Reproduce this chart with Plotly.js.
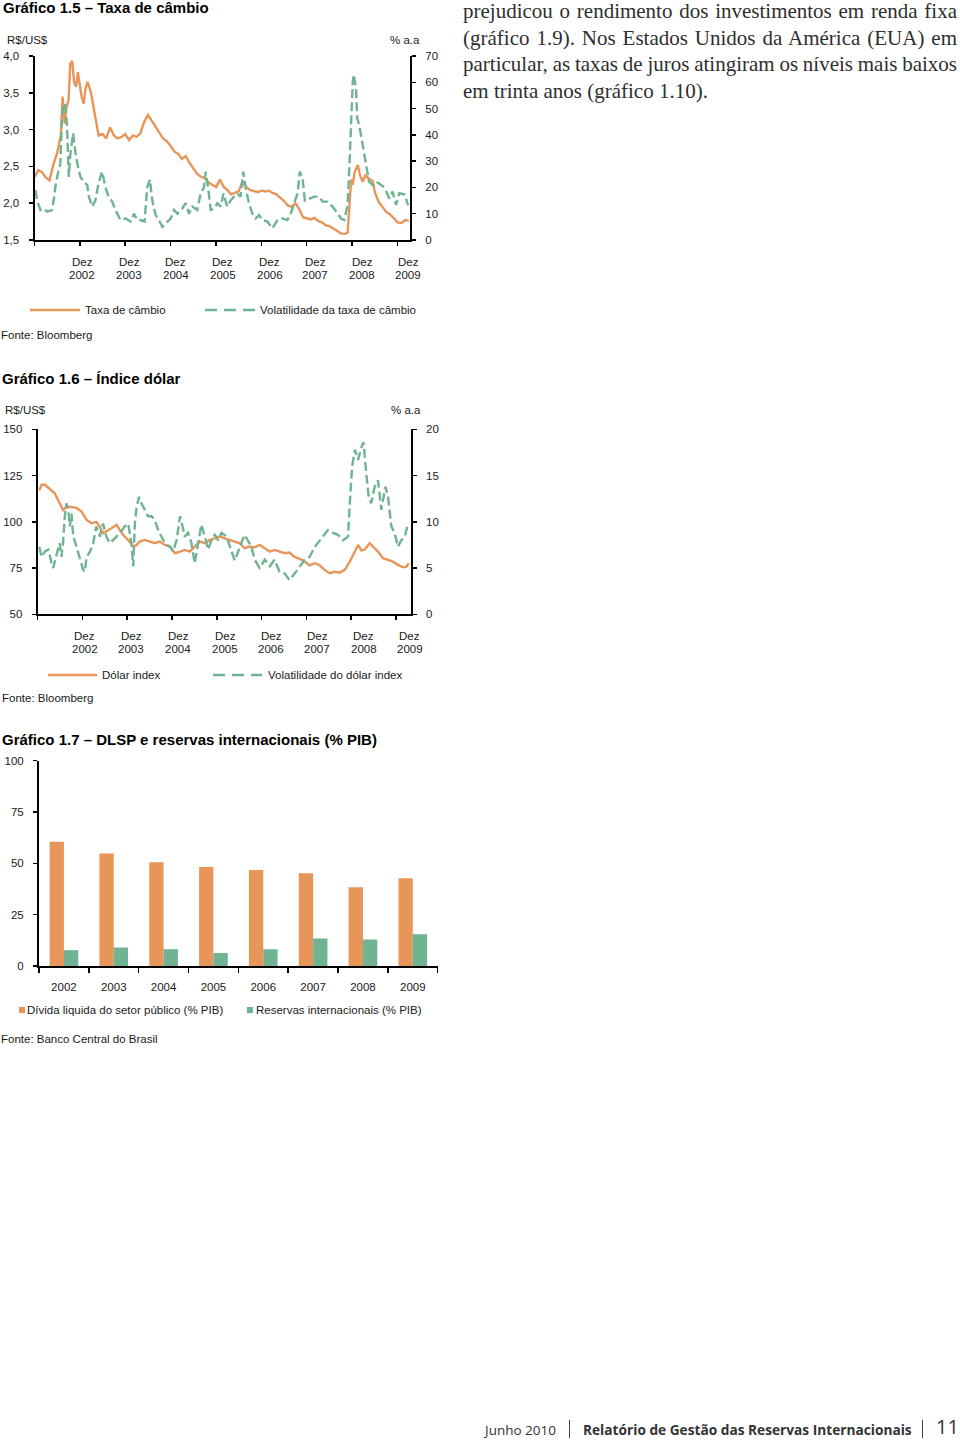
<!DOCTYPE html>
<html><head><meta charset="utf-8">
<script src="https://cdn.plot.ly/plotly-3.0.1.min.js"></script>
<style>
html,body{margin:0;padding:0;background:#fff;}
#page{position:relative;width:960px;height:1442px;overflow:hidden;background:#fff;}
#chart{position:absolute;left:0;top:0;width:960px;height:1442px;}
.para{position:absolute;left:463px;top:-2px;width:494px;font-family:'Liberation Serif','Times New Roman',serif;font-size:21px;color:#2e2e2e;}
.para div{height:26.7px;line-height:26.7px;white-space:nowrap;text-align:justify;text-align-last:justify;word-spacing:-3px;}
.para div.last{text-align:left;text-align-last:left;word-spacing:0;}
.foot{position:absolute;top:1419px;height:22px;line-height:22px;font-family:'Open Sans','Noto Sans',sans-serif;color:#333;white-space:nowrap;}
.sep{position:absolute;top:1420px;width:1px;height:18px;background:#444;}
</style></head>
<body><div id="page">
<div id="chart"></div>
<div class="para">
<div>prejudicou o rendimento dos investimentos em renda fixa</div>
<div>(gráfico 1.9). Nos Estados Unidos da América (EUA) em</div>
<div>particular, as taxas de juros atingiram os níveis mais baixos</div>
<div class="last">em trinta anos (gráfico 1.10).</div>
</div>
<div class="foot" style="left:485px;font-size:13.5px;">Junho 2010</div>
<div class="sep" style="left:569px;"></div>
<div class="foot" style="left:583px;font-size:13.7px;font-weight:bold;">Relatório de Gestão das Reservas Internacionais</div>
<div class="sep" style="left:922px;"></div>
<div class="foot" style="left:936px;top:1416px;font-size:20px;">11</div>
</div>
<script>
// ---------- Gráfico 1.5 : Taxa de câmbio (R$/US$) ----------
const fxDates = ['2001-12-03','2002-01-01','2002-02-01','2002-03-01','2002-04-01','2002-05-01','2002-06-01','2002-07-01','2002-07-15','2002-08-01','2002-08-15','2002-09-01','2002-09-15','2002-10-01','2002-10-15','2002-11-01','2002-11-15','2002-12-01','2002-12-15','2003-01-01','2003-01-15','2003-02-01','2003-03-01','2003-04-01','2003-05-01','2003-06-01','2003-07-01','2003-08-01','2003-09-01','2003-10-01','2003-11-01','2003-12-01','2004-01-01','2004-02-01','2004-03-01','2004-04-01','2004-05-01','2004-06-01','2004-07-01','2004-08-01','2004-09-01','2004-10-01','2004-11-01','2004-12-01','2005-01-01','2005-02-01','2005-03-01','2005-04-01','2005-05-01','2005-06-01','2005-07-01','2005-08-01','2005-09-01','2005-10-01','2005-11-01','2005-12-01','2006-01-01','2006-02-01','2006-03-01','2006-04-01','2006-05-01','2006-06-01','2006-07-01','2006-08-01','2006-09-01','2006-10-01','2006-11-01','2006-12-01','2007-01-01','2007-02-01','2007-03-01','2007-04-01','2007-05-01','2007-06-01','2007-07-01','2007-08-01','2007-09-01','2007-10-01','2007-11-01','2007-12-01','2008-01-01','2008-02-01','2008-03-01','2008-04-01','2008-05-01','2008-06-01','2008-07-01','2008-08-01','2008-09-01','2008-10-01','2008-10-25','2008-11-08','2008-11-22','2008-12-05','2008-12-20','2009-01-15','2009-02-01','2009-02-24','2009-03-15','2009-04-10','2009-05-15','2009-06-01','2009-07-01','2009-08-01','2009-09-01','2009-10-01','2009-11-01','2009-12-01','2010-01-01','2010-02-01','2010-03-01'];
const fxRate = [2.36,2.45,2.42,2.35,2.31,2.52,2.68,2.92,3.45,3.08,3.30,3.40,3.90,3.93,3.65,3.58,3.78,3.62,3.45,3.35,3.55,3.65,3.50,3.20,2.92,2.94,2.88,3.03,2.92,2.88,2.90,2.94,2.86,2.92,2.90,2.95,3.10,3.20,3.12,3.05,2.95,2.88,2.84,2.78,2.70,2.67,2.60,2.64,2.55,2.48,2.40,2.36,2.34,2.28,2.25,2.22,2.32,2.22,2.18,2.12,2.14,2.16,2.29,2.22,2.18,2.17,2.15,2.17,2.16,2.17,2.14,2.12,2.08,2.03,1.97,1.95,2.00,1.92,1.81,1.79,1.78,1.80,1.76,1.74,1.70,1.69,1.66,1.63,1.59,1.58,1.60,1.95,2.32,2.25,2.42,2.52,2.38,2.29,2.38,2.34,2.30,2.15,2.02,1.95,1.88,1.85,1.80,1.74,1.73,1.77,1.76];

const fxVolDates = ['2001-12-09','2001-12-22','2002-01-18','2002-02-14','2002-03-11','2002-04-21','2002-05-04','2002-05-17','2002-06-06','2002-06-27','2002-07-10','2002-07-23','2002-08-07','2002-08-20','2002-09-03','2002-09-16','2002-10-08','2002-10-27','2002-11-15','2002-12-06','2003-01-03','2003-01-29','2003-02-12','2003-03-09','2003-04-05','2003-05-02','2003-05-29','2003-06-25','2003-07-21','2003-08-18','2003-09-14','2003-10-24','2003-12-04','2004-01-14','2004-02-10','2004-03-07','2004-04-03','2004-05-05','2004-05-26','2004-06-17','2004-07-06','2004-08-02','2004-08-29','2004-09-25','2004-10-22','2004-12-02','2004-12-28','2005-01-25','2005-03-04','2005-04-01','2005-04-27','2005-05-24','2005-07-03','2005-07-30','2005-08-26','2005-09-09','2005-09-28','2005-10-19','2005-11-15','2005-12-12','2006-01-08','2006-01-30','2006-03-01','2006-03-28','2006-04-24','2006-05-21','2006-06-17','2006-07-08','2006-07-27','2006-08-23','2006-09-20','2006-10-16','2006-11-13','2006-12-09','2007-01-19','2007-02-28','2007-04-09','2007-05-19','2007-06-28','2007-07-25','2007-08-21','2007-09-18','2007-10-06','2007-10-27','2007-11-16','2007-12-20','2008-01-30','2008-03-10','2008-04-06','2008-05-16','2008-06-26','2008-08-06','2008-09-02','2008-09-28','2008-10-25','2008-11-10','2008-11-22','2008-12-05','2008-12-12','2008-12-22','2009-01-01','2009-01-10','2009-01-25','2009-02-24','2009-03-20','2009-04-15','2009-05-15','2009-06-10','2009-07-05','2009-08-03','2009-09-01','2009-09-26','2009-10-22','2009-11-19','2009-12-15','2010-01-28','2010-02-23'];
const fxVol = [19,15,11.4,12,10.8,11.4,15,20,25,29,47,52,51,43,24,33,40.6,33,28,24,22,21,16.5,12.7,15,22,26,20,16.5,14.6,11.4,7.6,8.2,7,10,7.6,7.6,7,20,23,15,9.5,7.6,5,6.3,8.2,11.4,10,12,14,10,12.7,11.4,17.7,20,26,20,11.4,12,14,12.7,17.7,12.7,15,16.5,17.7,16.5,26,20,14,10,8.2,9.5,7.6,7,4.4,7.6,8.2,7.6,10,14,17.7,26,24,15,15.8,16.5,16.5,14.6,14.6,12.7,10,8.2,7.6,13.3,29.8,48.8,60,63,60,57.7,46.3,44,36,29.8,22.2,20.9,22.2,21.5,20.5,18.4,15.8,18.4,13.3,17.8,17.3,13.3];

// ---------- Gráfico 1.6 : Índice dólar ----------
const dxDates = ['2001-12-14','2002-01-02','2002-01-29','2002-03-09','2002-04-19','2002-05-29','2002-06-26','2002-07-23','2002-09-03','2002-10-14','2002-11-24','2003-01-04','2003-02-14','2003-03-24','2003-04-21','2003-05-18','2003-06-14','2003-07-25','2003-09-05','2003-10-02','2003-10-29','2003-12-09','2004-01-19','2004-02-16','2004-03-12','2004-04-23','2004-06-03','2004-07-13','2004-08-23','2004-10-03','2004-11-14','2004-12-24','2005-02-04','2005-03-14','2005-04-24','2005-06-04','2005-07-15','2005-08-25','2005-10-05','2005-11-15','2005-12-25','2006-02-05','2006-03-16','2006-04-26','2006-06-06','2006-07-16','2006-08-26','2006-10-06','2006-11-16','2006-12-27','2007-02-07','2007-03-17','2007-04-27','2007-06-08','2007-07-18','2007-08-28','2007-10-08','2007-11-18','2007-12-28','2008-02-09','2008-03-19','2008-04-29','2008-06-09','2008-07-19','2008-08-29','2008-10-10','2008-11-20','2009-01-01','2009-01-27','2009-02-24','2009-03-21','2009-05-01','2009-05-27','2009-07-08','2009-08-18','2009-09-28','2009-11-08','2009-12-18','2010-01-29','2010-02-25','2010-03-17'];
const dxIndex = [117,120,120,118,115.4,110,106.4,108,108,107.5,105.5,101,99.2,100,97.4,93.8,94.7,96.5,98.3,95.6,92.9,90.2,86.6,87.5,89.3,90.2,89.3,88.4,89.3,87.5,86.6,83,83.9,84.8,83.9,86.6,89.3,88.4,90.2,91,92,91,90.2,89.3,88.4,85.7,86.6,86.2,87.5,85.7,83.9,84.8,83.9,83,83.4,81,80,78.5,76.5,77.6,76.5,74,72.2,73,72.5,74,78.5,83.9,87.5,84.5,85,88.4,86.6,83.9,80.3,79.4,78.5,76.7,75.4,75.8,77.6];

const dxVolDates = ['2001-12-14','2002-01-02','2002-01-29','2002-02-26','2002-03-23','2002-04-06','2002-05-03','2002-05-29','2002-06-13','2002-06-26','2002-07-10','2002-07-23','2002-08-07','2002-08-20','2002-09-03','2002-09-17','2002-10-14','2002-11-10','2002-12-07','2002-12-21','2003-01-04','2003-02-01','2003-02-27','2003-03-24','2003-04-21','2003-05-18','2003-06-14','2003-07-11','2003-08-22','2003-10-02','2003-11-12','2003-12-09','2004-01-05','2004-01-19','2004-02-02','2004-02-16','2004-03-07','2004-03-26','2004-04-23','2004-05-20','2004-06-16','2004-07-13','2004-08-10','2004-09-07','2004-10-03','2004-11-14','2004-12-10','2005-01-07','2005-02-04','2005-02-25','2005-03-14','2005-04-11','2005-05-08','2005-06-04','2005-07-01','2005-07-28','2005-08-25','2005-09-21','2005-10-18','2005-11-15','2005-12-12','2006-01-09','2006-02-19','2006-03-29','2006-04-26','2006-07-16','2006-09-10','2006-10-06','2006-11-16','2006-12-27','2007-02-07','2007-03-17','2007-04-27','2007-06-08','2007-07-18','2007-08-28','2007-10-08','2007-11-18','2007-12-28','2008-02-09','2008-04-02','2008-05-26','2008-07-06','2008-08-16','2008-09-26','2008-11-06','2008-11-20','2008-12-09','2009-01-01','2009-01-27','2009-02-24','2009-03-12','2009-04-04','2009-04-23','2009-05-14','2009-06-11','2009-07-08','2009-08-04','2009-09-07','2009-09-28','2009-10-25','2009-11-21','2009-12-18','2010-01-15','2010-02-12','2010-03-09'];
const dxVol = [7.3,6.2,6.8,7,5.6,5,6.4,7.7,6.2,7.7,10.6,12,11.3,9.5,10.9,8.4,7.3,5.9,4.8,4.6,6.2,6.8,7.7,9.5,8.4,9.8,8.4,7.7,8.2,8.8,9.5,9.8,7.7,5.2,9.8,11.6,12.7,12,11.3,10.6,10.6,10.2,9.1,8.4,7.7,7.3,6.8,8,10.6,9.5,8.4,8.8,7.7,5.5,7.7,9.7,8.4,7,8,8.6,8,8.8,8.4,7,5.8,8.6,7.3,5.9,5,5.9,5.2,5.9,4.6,4.4,3.7,4.4,5.2,5.9,6.2,7.3,8.2,9.1,8.8,8.6,8,8.4,12,16,17.8,16.7,18.1,18.6,15.2,12.7,12,13.8,14.5,11.3,13.8,12.7,9.5,8.8,7.3,8,8.4,9.8];

// ---------- Gráfico 1.7 : DLSP e reservas internacionais (% PIB) ----------
const years = ['2002','2003','2004','2005','2006','2007','2008','2009'];
const dlsp = [60.5,54.8,50.5,48.2,46.8,45.2,38.4,42.7];
const reservas = [7.7,9.0,8.2,6.3,8.1,13.4,12.9,15.5];

// time-axis ticks and labels
const decTicks = ['2001-12-01','2002-12-01','2003-12-01','2004-12-01','2005-12-01','2006-12-01','2007-12-01','2008-12-01','2009-12-01'];
const labelYears = ['2002','2003','2004','2005','2006','2007','2008','2009'];
const labelPos1 = ['2002-12-22','2004-01-01','2005-01-11','2006-01-25','2007-02-08','2008-02-06','2009-02-19','2010-02-25'];
const labelPos2 = ['2002-12-21','2004-01-05','2005-01-19','2006-02-07','2007-02-17','2008-03-01','2009-03-15','2010-03-25'];

const ORANGE = '#E8955A', GREEN = '#6FB393';
const W = 960, H = 1442;
const PX = v => v / W, PY = v => 1 - v / H;
const FAM = 'Liberation Sans, Arial, Helvetica, sans-serif';
const TF = {family: FAM, size: 11.5, color: '#1a1a1a'};
const DASH = '9px,4px';

function ax(o) {
  return Object.assign({showgrid:false, zeroline:false, showline:true, linecolor:'#000', linewidth:2,
    ticks:'outside', ticklen:4, tickwidth:1.5, tickcolor:'#000', tickfont:TF, fixedrange:true}, o);
}

const traces = [
  {x: fxDates, y: fxRate, xaxis:'x', yaxis:'y', type:'scatter', mode:'lines', name:'Taxa de câmbio',
   line:{color:ORANGE, width:2.4}, hoverinfo:'skip'},
  {x: fxVolDates, y: fxVol, xaxis:'x', yaxis:'y2', type:'scatter', mode:'lines', name:'Volatilidade da taxa de câmbio',
   line:{color:GREEN, width:2.4, dash:DASH}, hoverinfo:'skip'},
  {x: dxDates, y: dxIndex, xaxis:'x3', yaxis:'y3', type:'scatter', mode:'lines', name:'Dólar index',
   line:{color:ORANGE, width:2.4}, hoverinfo:'skip'},
  {x: dxVolDates, y: dxVol, xaxis:'x3', yaxis:'y4', type:'scatter', mode:'lines', name:'Volatilidade do dólar index',
   line:{color:GREEN, width:2.4, dash:DASH}, hoverinfo:'skip'},
  {x: years, y: dlsp, xaxis:'x5', yaxis:'y5', type:'bar', name:'Dívida liquida do setor público (% PIB)',
   marker:{color:ORANGE}, hoverinfo:'skip'},
  {x: years, y: reservas, xaxis:'x5', yaxis:'y5', type:'bar', name:'Reservas internacionais (% PIB)',
   marker:{color:GREEN}, hoverinfo:'skip'}
];

const r1 = ['2001-12-01','2010-03-11'];
const r2 = ['2001-12-01','2010-04-01'];

function ann(text, x, y, opts) {
  return Object.assign({text:text, x:PX(x), y:PY(y), xref:'paper', yref:'paper', showarrow:false,
    xanchor:'left', yanchor:'middle', font:{family:FAM, size:11.5, color:'#1a1a1a'}, borderpad:0}, opts||{});
}
const TITLE = {family:FAM, size:15, color:'#000'};

const annotations = [
  ann('<b>Gráfico 1.5 – Taxa de câmbio</b>', 2, 8, {font:TITLE}),
  ann('R$/US$', 6, 40),
  ann('% a.a', 421, 40, {xanchor:'right'}),
  ann('Taxa de câmbio', 84, 310),
  ann('Volatilidade da taxa de câmbio', 259, 310),
  ann('Fonte: Bloomberg', 0, 335),

  ann('<b>Gráfico 1.6 – Índice dólar</b>', 1, 378, {font:TITLE}),
  ann('R$/US$', 4, 410),
  ann('% a.a', 422, 410, {xanchor:'right'}),
  ann('Dólar index', 101, 675),
  ann('Volatilidade do dólar index', 267, 675),
  ann('Fonte: Bloomberg', 1, 698),

  ann('<b>Gráfico 1.7 – DLSP e reservas internacionais (% PIB)</b>', 1, 739, {font:TITLE}),
  ann('Dívida liquida do setor público (% PIB)', 26, 1010),
  ann('Reservas internacionais (% PIB)', 255, 1010),
  ann('Fonte: Banco Central do Brasil', 0, 1039)
];
// "Dez / yyyy" date-axis labels
labelYears.forEach((yr, i) => {
  [['x', labelPos1[i], 262, 275], ['x3', labelPos2[i], 636, 649]].forEach(([xr, xv, y1, y2]) => {
    annotations.push({text:'Dez', x:xv, xref:xr, y:PY(y1), yref:'paper', showarrow:false, xanchor:'center', yanchor:'middle', font:TF, borderpad:0});
    annotations.push({text:yr, x:xv, xref:xr, y:PY(y2), yref:'paper', showarrow:false, xanchor:'center', yanchor:'middle', font:TF, borderpad:0});
  });
});

const layout = {
  width: W, height: H, margin:{l:0,r:0,t:0,b:0}, showlegend:false,
  paper_bgcolor:'rgba(0,0,0,0)', plot_bgcolor:'rgba(0,0,0,0)',
  barmode:'group', bargap:0.425, bargroupgap:0,
  // chart 1
  xaxis: ax({domain:[PX(34.5),PX(410)], anchor:'y', type:'date', range:r1, tickvals:decTicks, showticklabels:false}),
  yaxis: ax({domain:[PY(240),PY(56)], anchor:'x', range:[1.5,4.0], tickvals:[1.5,2,2.5,3,3.5,4],
    ticktext:['1,5','2,0','2,5','3,0','3,5','4,0'], ticklabelstandoff:7}),
  yaxis2: ax({overlaying:'y', anchor:'x', side:'right', range:[0,70], tickvals:[0,10,20,30,40,50,60,70], ticklabelstandoff:7}),
  // chart 2
  xaxis3: ax({domain:[PX(37.7),PX(410.7)], anchor:'y3', type:'date', range:r2, tickvals:decTicks, showticklabels:false}),
  yaxis3: ax({domain:[PY(614.3),PY(429.3)], anchor:'x3', range:[50,150], tickvals:[50,75,100,125,150], ticklabelstandoff:7}),
  yaxis4: ax({overlaying:'y3', anchor:'x3', side:'right', range:[0,20], tickvals:[0,5,10,15,20], ticklabelstandoff:7}),
  // chart 3
  xaxis5: ax({domain:[PX(39),PX(437.7)], anchor:'y5', type:'category', tickson:'boundaries', ticklen:5, ticklabelstandoff:9}),
  yaxis5: ax({domain:[PY(966),PY(760.7)], anchor:'x5', range:[0,100], tickvals:[0,25,50,75,100], ticklabelstandoff:7}),
  annotations: annotations,
  shapes: [
    {type:'line', xref:'paper', yref:'paper', x0:PX(30), x1:PX(80), y0:PY(310), y1:PY(310), line:{color:ORANGE, width:2.4}},
    {type:'line', xref:'paper', yref:'paper', x0:PX(205), x1:PX(255), y0:PY(310), y1:PY(310), line:{color:GREEN, width:2.4, dash:'12px,7px'}},
    {type:'line', xref:'paper', yref:'paper', x0:PX(48), x1:PX(97), y0:PY(675), y1:PY(675), line:{color:ORANGE, width:2.4}},
    {type:'line', xref:'paper', yref:'paper', x0:PX(213), x1:PX(262), y0:PY(675), y1:PY(675), line:{color:GREEN, width:2.4, dash:'12px,7px'}},
    {type:'rect', xref:'paper', yref:'paper', x0:PX(19), x1:PX(25), y0:PY(1013), y1:PY(1007), fillcolor:ORANGE, line:{width:0}},
    {type:'rect', xref:'paper', yref:'paper', x0:PX(247), x1:PX(253), y0:PY(1013), y1:PY(1007), fillcolor:GREEN, line:{width:0}}
  ]
};

Plotly.newPlot('chart', traces, layout, {staticPlot:true, displayModeBar:false});
</script>
</body></html>
